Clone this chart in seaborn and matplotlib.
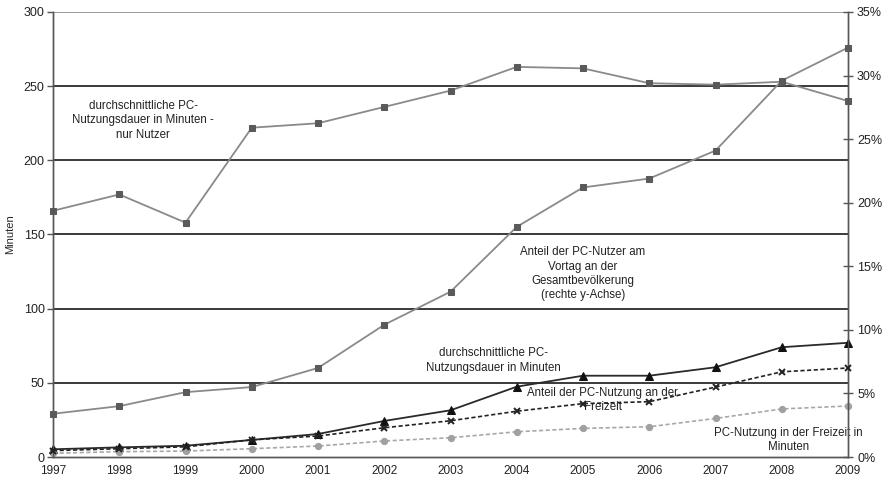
import matplotlib
matplotlib.use("Agg")
import matplotlib.pyplot as plt
import seaborn as sns
import pandas as pd
from matplotlib.ticker import FuncFormatter, MultipleLocator

years = list(range(1997, 2010))

# minutes, left axis
dauer_nur_nutzer = [166, 177, 158, 222, 225, 236, 247, 263, 262, 252, 251, 253, 240]
dauer_minuten = [5.2, 6.5, 7.6, 11.5, 15.5, 24.3, 31.5, 47.4, 54.8, 54.8, 60.5, 74, 77]
freizeit_minuten = [2.5, 3.6, 4.0, 5.6, 7.4, 10.8, 13.0, 17.0, 19.3, 20.4, 26.0, 32.4, 34.4]

# shares, right axis
anteil_nutzer = [0.034, 0.040, 0.051, 0.055, 0.070, 0.104, 0.130, 0.181, 0.212, 0.219, 0.241, 0.296, 0.322]
anteil_freizeit = [0.005, 0.0065, 0.008, 0.0135, 0.0165, 0.023, 0.0285, 0.036, 0.042, 0.0435, 0.055, 0.067, 0.070]

sns.set_style("white")
plt.rcParams["font.family"] = ["Liberation Sans", "DejaVu Sans"]

fig = plt.figure(figsize=(8.87, 4.82), dpi=100)
ax = fig.add_axes([53 / 887, 1 - 457 / 482, (848 - 53) / 887, (457 - 12) / 482])
ax2 = ax.twinx()

df = pd.DataFrame({
    "Jahr": years,
    "nur_nutzer": dauer_nur_nutzer,
    "dauer": dauer_minuten,
    "freizeit": freizeit_minuten,
    "anteil_nutzer": anteil_nutzer,
    "anteil_freizeit": anteil_freizeit,
})

common = dict(clip_on=False, zorder=5)
sns.lineplot(data=df, x="Jahr", y="nur_nutzer", ax=ax, color="#8a8a8a", lw=1.3,
             marker="s", markersize=5, markerfacecolor="#5a5a5a",
             markeredgecolor="#5a5a5a", **common)
sns.lineplot(data=df, x="Jahr", y="dauer", ax=ax, color="#2a2a2a", lw=1.3,
             marker="^", markersize=6, markerfacecolor="#111111",
             markeredgecolor="#111111", **common)
sns.lineplot(data=df, x="Jahr", y="freizeit", ax=ax, color="#a8a8a8", lw=1.2,
             linestyle=(0, (2.5, 1.5)), marker="o", markersize=4.5,
             markerfacecolor="#a0a0a0", markeredgecolor="#a0a0a0", **common)
sns.lineplot(data=df, x="Jahr", y="anteil_nutzer", ax=ax2, color="#8a8a8a", lw=1.3,
             marker="s", markersize=5, markerfacecolor="#5a5a5a",
             markeredgecolor="#5a5a5a", **common)
sns.lineplot(data=df, x="Jahr", y="anteil_freizeit", ax=ax2, color="#222222", lw=1.2,
             linestyle=(0, (2.5, 1.5)), marker="x", markersize=5, markeredgewidth=1.4,
             markeredgecolor="#222222", **common)

# left axis: minutes
ax.set_xlim(1997, 2009)
ax.set_ylim(0, 300)
ax.yaxis.set_major_locator(MultipleLocator(50))
ax.set_xticks(years)
ax.set_xticklabels([str(y) for y in years])
ax.set_xlabel("")
ax.set_ylabel("Minuten", fontsize=8)
ax.yaxis.set_label_coords(-0.048, 0.5)
for v in range(50, 300, 50):
    ax.axhline(v, color="#2b2b2b", lw=1.3, zorder=1)
ax.axhline(300, color="#8a8a8a", lw=1.2, zorder=1)

# right axis: percent
ax2.set_ylim(0, 0.35)
ax2.yaxis.set_major_locator(MultipleLocator(0.05))
ax2.yaxis.set_major_formatter(FuncFormatter(lambda v, p: f"{v * 100:.0f}%"))
ax2.set_ylabel("")

for a in (ax, ax2):
    a.spines["top"].set_visible(False)
    for s in ("left", "right", "bottom"):
        a.spines[s].set_color("#555555")
        a.spines[s].set_linewidth(1.0)

ax.tick_params(axis="y", direction="out", length=4, width=1, color="#555555",
               labelsize=9, pad=2, labelcolor="#222222")
ax.tick_params(axis="x", direction="out", length=4, width=1, color="#555555",
               labelsize=8.5, pad=2, labelcolor="#222222")
ax2.tick_params(axis="y", direction="inout", length=7, width=1, color="#555555",
                labelsize=9, pad=3, labelcolor="#222222")

txt = dict(fontsize=8.3, ha="center", va="center", color="#222222", zorder=6,
           linespacing=1.25)
ax.text(1998.36, 227, "durchschnittliche PC-\nNutzungsdauer in Minuten -\nnur Nutzer", **txt)
ax.text(2005.0, 123.5, "Anteil der PC-Nutzer am\nVortag an der\nGesamtbevölkerung\n(rechte y-Achse)", **txt)
ax.text(2003.65, 65, "durchschnittliche PC-\nNutzungsdauer in Minuten", **txt)
ax.text(2005.3, 38.5, "Anteil der PC-Nutzung an der\nFreizeit", **txt)
ax.text(2008.1, 11.5, "PC-Nutzung in der Freizeit in\nMinuten", **txt)

fig.savefig("out.png", dpi=100)
